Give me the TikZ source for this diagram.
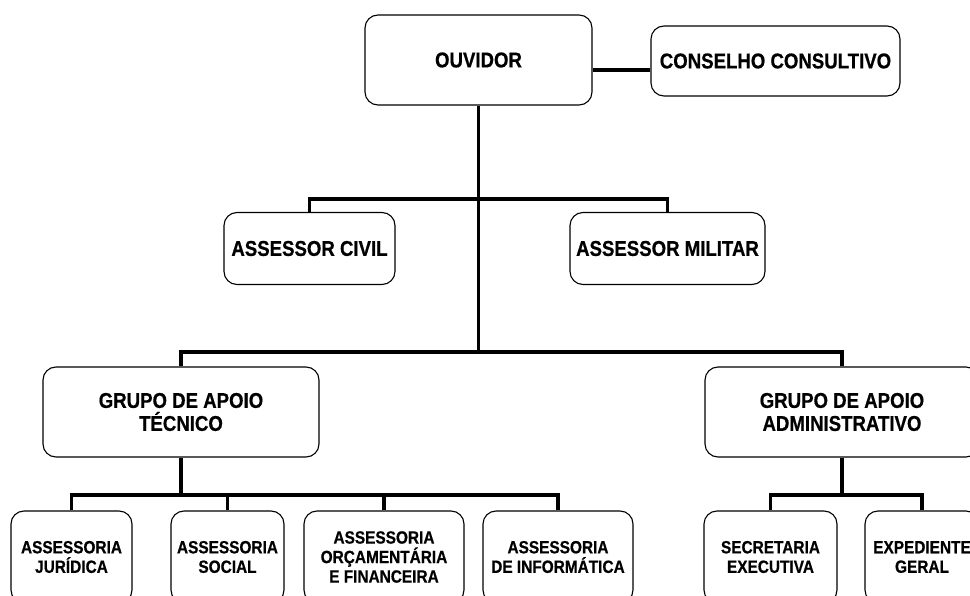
\documentclass[tikz,border=0pt]{standalone}
\usepackage{fontspec}
\setmainfont{Liberation Sans}[FakeStretch=0.87, BoldFeatures={FakeBold=0.6}]

\begin{document}
\begin{tikzpicture}[x=1pt, y=-1pt, line width=3.3pt,
  box/.style={draw, line width=1.1pt, rounded corners=13pt, align=center, inner sep=0pt,
    font=\bfseries\fontsize{21.4}{23}\selectfont},
  small/.style={box, minimum height=92pt, font=\bfseries\fontsize{17.7}{19.5}\selectfont}]
  \useasboundingbox (0,0) rectangle (970,596);

  \node[box, minimum width=227pt, minimum height=90pt] (ouv) at (478.5,60) {OUVIDOR};
  \node[box, minimum width=249pt, minimum height=70pt] (con) at (775.5,61) {CONSELHO CONSULTIVO};
  \node[box, minimum width=171pt, minimum height=72pt] (civ) at (309.5,248.5) {ASSESSOR CIVIL};
  \node[box, minimum width=195pt, minimum height=72pt] (mil) at (667.5,248.5) {ASSESSOR MILITAR};
  \node[box, minimum width=276pt, minimum height=90pt] (tec) at (181,412) {GRUPO DE APOIO\\T\'ECNICO};
  \node[box, minimum width=274pt, minimum height=90pt] (adm) at (842,412) {GRUPO DE APOIO\\ADMINISTRATIVO};

  \node[small, minimum width=121pt] (jur) at (71.5,557) {ASSESSORIA\\JUR\'IDICA};
  \node[small, minimum width=113pt] (soc) at (227.5,557) {ASSESSORIA\\SOCIAL};
  \node[small, minimum width=160pt] (orc) at (384,557) {ASSESSORIA\\OR\c{C}AMENT\'ARIA\\E FINANCEIRA};
  \node[small, minimum width=150pt] (inf) at (558,557) {ASSESSORIA\\DE INFORM\'ATICA};
  \node[small, minimum width=133pt] (sec) at (770.5,557) {SECRETARIA\\EXECUTIVA};
  \node[small, minimum width=114pt] (exp) at (922,557) {EXPEDIENTE\\GERAL};

  \coordinate (top) at (478.5,199);
  \coordinate (mid) at (478.5,352);
  \coordinate (tlow) at (181,495);
  \coordinate (alow) at (842,495);

  \draw ([yshift=-10pt]ouv.east) -- ([yshift=-9pt]con.west);
  \draw (ouv.south) -- (mid);
  \draw (civ.north) |- (top) -| (mil.north);
  \draw (tec.north) |- (mid) -| (adm.north);

  \draw (tec.south) -- (tlow);
  \draw (jur.north) |- (tlow) -| (inf.north);
  \draw (soc.north) -- (soc.north |- tlow);
  \draw (orc.north) -- (orc.north |- tlow);

  \draw (adm.south) -- (alow);
  \draw (sec.north) |- (alow) -| (exp.north);
\end{tikzpicture}
\end{document}
